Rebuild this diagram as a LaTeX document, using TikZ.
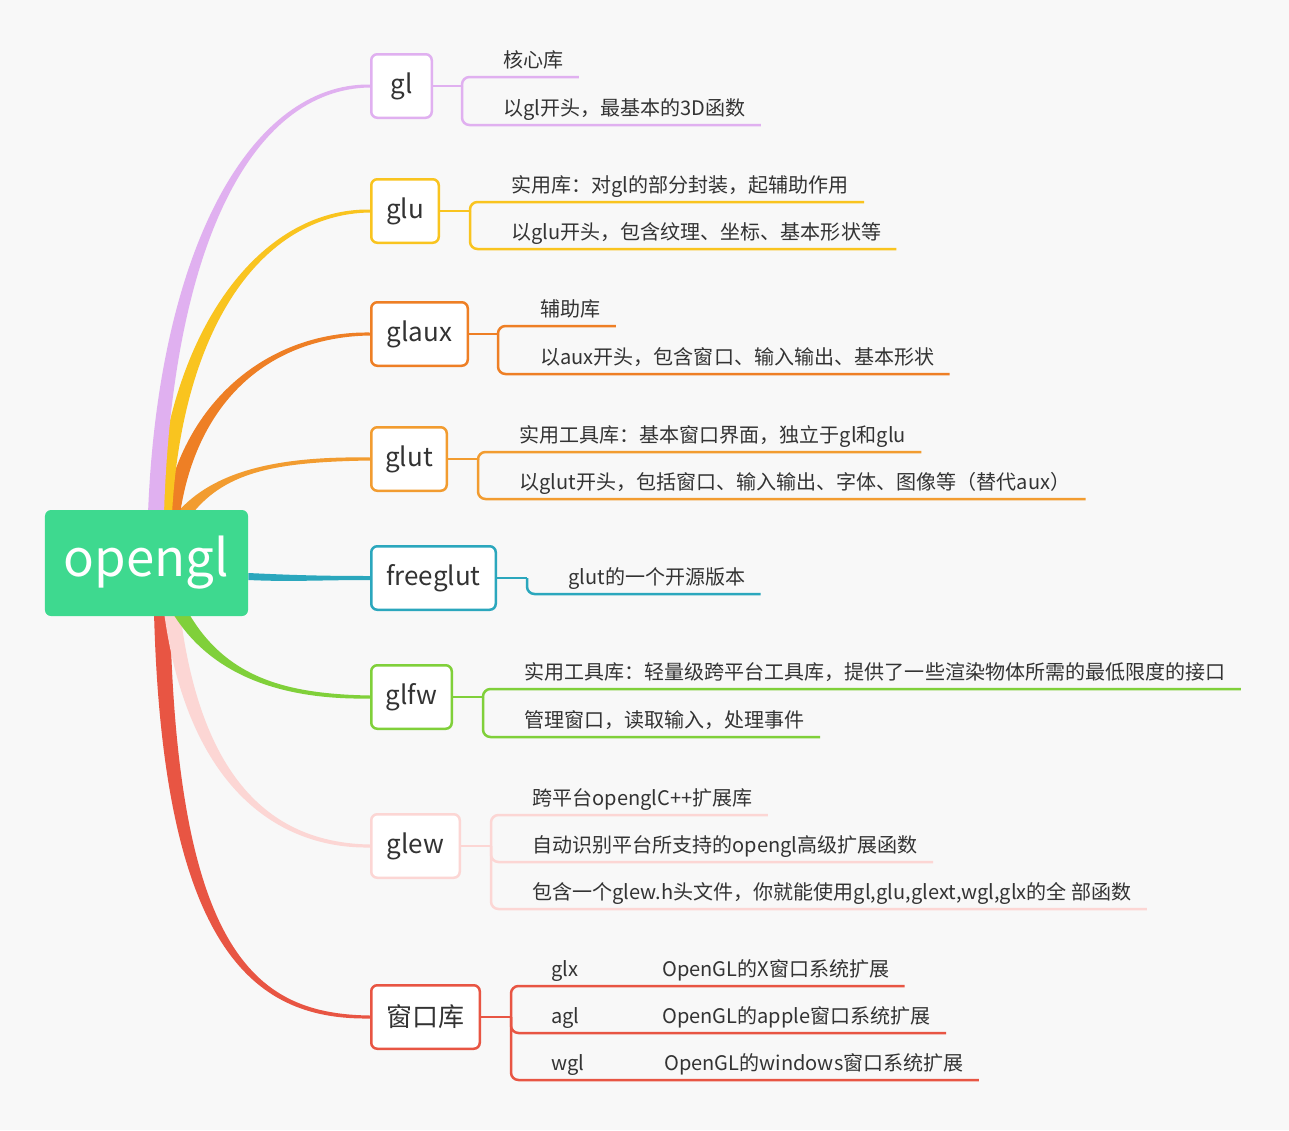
\documentclass[tikz,border=0pt]{standalone}
\usepackage{fontspec}
\setmainfont{Noto Sans CJK SC}
\usetikzlibrary{calc}
\definecolor{mmbg}{RGB}{248,248,248}
\definecolor{mmtext}{RGB}{51,51,51}
\definecolor{mmroot}{RGB}{62,217,143}
\definecolor{mmlilac}{RGB}{224,176,240}
\definecolor{mmyellow}{RGB}{249,196,31}
\definecolor{mmorange}{RGB}{238,127,37}
\definecolor{mmamber}{RGB}{242,156,48}
\definecolor{mmteal}{RGB}{43,167,189}
\definecolor{mmgreen}{RGB}{128,208,58}
\definecolor{mmpink}{RGB}{252,214,212}
\definecolor{mmred}{RGB}{232,85,67}
\pgfdeclarelayer{back}
\pgfsetlayers{back,main}
% tapered branch: colour, foot, control 1, control 2, child node, signed half width at the child
\newcommand\branch[6]{%
  \fill[#1] ($(#2)+(-8,0)$) .. controls ($(#3)+(-7,0)$) and ($(#4)+(0,2*#6)$) .. ($(#5.west)+(0,#6)$)
    -- ($(#5.west)-(0,#6)$) .. controls ($(#4)-(0,2*#6)$) and ($(#3)+(7,0)$) .. ($(#2)+(8,0)$) -- cycle;}

\begin{document}
\begin{tikzpicture}[x=0.2mm,y=-0.2mm,
  root/.style={fill=mmroot,rounded corners=1.2mm,minimum width=40.6mm,minimum height=21.2mm,
    text=white,font=\fontsize{29}{34}\selectfont},
  box/.style={draw,line width=0.5mm,fill=white,rounded corners=1.2mm,minimum height=12.7mm,
    inner xsep=2mm,anchor=west,text=mmtext,font=\fontsize{14.8}{18}\selectfont},
  item/.style={anchor=south west,inner xsep=3mm,inner ysep=0.9mm,text height=3.6mm,
    text depth=1mm,text=mmtext,font=\fontsize{11.4}{14}\selectfont},
  sub/.style={line width=0.5mm,rounded corners=1.5mm}]
  \useasboundingbox (0,0) rectangle (1289,1130);

  \node[root] (opengl) at (146.5,563) {opengl};

  \node[box,draw=mmlilac,minimum width=12.1mm] (gl) at (370,86) {gl};
  \node[box,draw=mmyellow,minimum width=13.5mm] (glu) at (370,211) {glu};
  \node[box,draw=mmorange,minimum width=19.3mm] (glaux) at (370,334) {glaux};
  \node[box,draw=mmamber,minimum width=15.1mm] (glut) at (370,459) {glut};
  \node[box,draw=mmteal,minimum width=24.9mm] (freeglut) at (370,578) {freeglut};
  \node[box,draw=mmgreen,minimum width=16.1mm] (glfw) at (370,697) {glfw};
  \node[box,draw=mmpink,minimum width=17.7mm] (glew) at (370,846) {glew};
  \node[box,draw=mmred,minimum width=21.7mm] (win) at (370,1017) {窗口库};

  \begin{pgfonlayer}{back}
    \fill[mmbg] (0,0) rectangle (1289,1130);
    \branch{mmred}{162,612}{170,960}{260,1017}{win}{1.5}
    \branch{mmpink}{172,612}{195,790}{280,846}{glew}{1.5}
    \branch{mmgreen}{180,612}{220,680}{290,697}{glfw}{1.5}
    \fill[mmteal] ($(opengl.east)+(0,10)$) .. controls (290,575) and (320,576) .. ($(freeglut.west)+(0,-2)$)
      -- ($(freeglut.west)+(0,2)$) .. controls (320,580) and (290,582) .. ($(opengl.east)+(0,17)$) -- cycle;
    \branch{mmamber}{184,514}{220,470}{280,459}{glut}{-1.5}
    \branch{mmorange}{172,514}{190,400}{270,334}{glaux}{-1.5}
    \branch{mmyellow}{164,514}{175,330}{260,211}{glu}{-1.5}
    \branch{mmlilac}{156,514}{165,250}{250,86}{gl}{-1.5}
  \end{pgfonlayer}

  % gl
  \coordinate (Hgl) at (462,86);
  \node[item] (gl1) at (488,77) {核心库};
  \node[item] (gl2) at (488,125) {以gl开头，最基本的3D函数};
  \draw[sub,mmlilac] (gl) -- (Hgl);
  \draw[sub,mmlilac] (Hgl) |- (gl1.south east);
  \draw[sub,mmlilac] (Hgl) |- (gl2.south east);

  % glu
  \coordinate (Hglu) at (470,211);
  \node[item] (glu1) at (496,202) {实用库：对gl的部分封装，起辅助作用};
  \node[item] (glu2) at (496,249) {以glu开头，包含纹理、坐标、基本形状等};
  \draw[sub,mmyellow] (glu) -- (Hglu);
  \draw[sub,mmyellow] (Hglu) |- (glu1.south east);
  \draw[sub,mmyellow] (Hglu) |- (glu2.south east);

  % glaux
  \coordinate (Hglaux) at (498,334);
  \node[item] (glaux1) at (525,326) {辅助库};
  \node[item] (glaux2) at (525,374) {以aux开头，包含窗口、输入输出、基本形状};
  \draw[sub,mmorange] (glaux) -- (Hglaux);
  \draw[sub,mmorange] (Hglaux) |- (glaux1.south east);
  \draw[sub,mmorange] (Hglaux) |- (glaux2.south east);

  % glut
  \coordinate (Hglut) at (478,459);
  \node[item] (glut1) at (504,452) {实用工具库：基本窗口界面，独立于gl和glu};
  \node[item] (glut2) at (504,499) {以glut开头，包括窗口、输入输出、字体、图像等（替代aux）};
  \draw[sub,mmamber] (glut) -- (Hglut);
  \draw[sub,mmamber] (Hglut) |- (glut1.south east);
  \draw[sub,mmamber] (Hglut) |- (glut2.south east);

  % freeglut
  \coordinate (Hfree) at (527,578);
  \node[item] (free1) at (553,594) {glut的一个开源版本};
  \draw[sub,mmteal] (freeglut) -- (Hfree);
  \draw[sub,mmteal] (Hfree) |- (free1.south east);

  % glfw
  \coordinate (Hglfw) at (483,697);
  \node[item] (glfw1) at (509,689) {实用工具库：轻量级跨平台工具库，提供了一些渲染物体所需的最低限度的接口};
  \node[item] (glfw2) at (509,737) {管理窗口，读取输入，处理事件};
  \draw[sub,mmgreen] (glfw) -- (Hglfw);
  \draw[sub,mmgreen] (Hglfw) |- (glfw1.south east);
  \draw[sub,mmgreen] (Hglfw) |- (glfw2.south east);

  % glew
  \coordinate (Hglew) at (491,846);
  \node[item] (glew1) at (517,815) {跨平台openglC++扩展库};
  \node[item] (glew2) at (517,862) {自动识别平台所支持的opengl高级扩展函数};
  \node[item] (glew3) at (517,909) {包含一个glew.h头文件，你就能使用gl,glu,glext,wgl,glx的全 部函数};
  \draw[sub,mmpink] (glew) -- (Hglew);
  \draw[sub,mmpink] (Hglew) |- (glew1.south east);
  \draw[sub,mmpink] (Hglew) |- (glew2.south east);
  \draw[sub,mmpink] (Hglew) |- (glew3.south east);

  % window libraries
  \coordinate (Hwin) at (511,1017);
  \node[item] (glx) at (536,986) {glx};
  \node[item] (agl) at (536,1033) {agl};
  \node[item] (wgl) at (536,1080) {wgl};
  \node[item] (glx1) at (647,986) {OpenGL的X窗口系统扩展};
  \node[item] (agl1) at (647,1033) {OpenGL的apple窗口系统扩展};
  \node[item] (wgl1) at (649,1080) {OpenGL的windows窗口系统扩展};
  \draw[sub,mmred] (win) -- (Hwin);
  \draw[sub,mmred] (Hwin) |- (glx.south east) -- (glx1.south east);
  \draw[sub,mmred] (Hwin) |- (agl.south east) -- (agl1.south east);
  \draw[sub,mmred] (Hwin) |- (wgl.south east) -- (wgl1.south east);
\end{tikzpicture}
\end{document}
